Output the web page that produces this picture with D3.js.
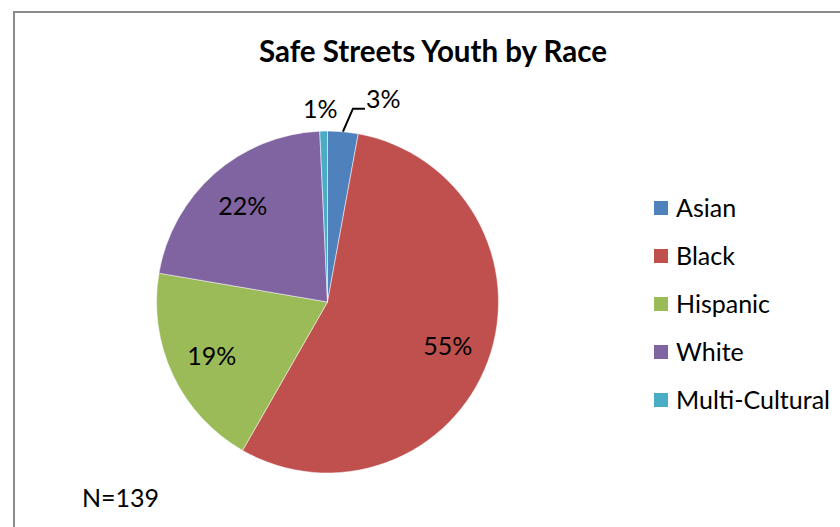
<!DOCTYPE html>
<html><head><meta charset="utf-8">
<script src="https://cdn.jsdelivr.net/npm/d3@7"></script>
<style>body{margin:0;background:#fff}svg{display:block;font-family:Lato,"Open Sans",sans-serif}</style>
</head><body><svg id="c" width="840" height="527"></svg>
<script>
const categories = ["Asian","Black","Hispanic","White","Multi-Cultural"];
const counts = [4,77,27,30,1];
const colors = ["#4F81BD","#C0504D","#9BBB59","#8064A2","#4BACC6"];
const title = "Safe Streets Youth by Race";
const note = "N=139";

const svg = d3.select("#c");
svg.append("rect").attr("x",14).attr("y",12).attr("width",900).attr("height",600)
  .attr("fill","#fff").attr("stroke","#8c8c8c").attr("stroke-width",2);

svg.append("text").attr("x",433).attr("y",52).attr("dy","0.35em").attr("text-anchor","middle")
  .attr("font-size",29.5).attr("font-weight","bold").attr("fill","#000").text(title);

const cx=327.5, cy=302, R=171;
const total=d3.sum(counts);
const pie=d3.pie().sort(null).value(d=>d)(counts);
const arc=d3.arc().innerRadius(0).outerRadius(R);
const g=svg.append("g").attr("transform",`translate(${cx},${cy})`);
g.selectAll("path").data(pie).join("path").attr("d",arc)
  .attr("fill",(d,i)=>colors[i]).attr("stroke","#fff").attr("stroke-width",0.5);

const pct=d=>Math.round(d.value/total*100)+"%";
const labelArc=d3.arc().innerRadius(128).outerRadius(128);
const fs=25;
pie.forEach((d,i)=>{
  const mid=(d.startAngle+d.endAngle)/2;
  if(d.value/total>0.05){
    const [x,y]=labelArc.centroid(d);
    g.append("text").attr("x",x).attr("y",y).attr("dy","0.35em").attr("text-anchor","middle")
      .attr("font-size",fs).attr("fill","#000").text(pct(d));
  } else if(i===0){
    const p0=[R*Math.sin(mid), -R*Math.cos(mid)];
    const p1=[p0[0]+10, p0[1]-23];
    const p2=[p1[0]+12, p1[1]];
    g.append("path").attr("d",d3.line()([p0,p1,p2])).attr("fill","none").attr("stroke","#000").attr("stroke-width",2);
    g.append("text").attr("x",p2[0]+1).attr("y",p2[1]-9).attr("dy","0.35em").attr("font-size",fs).text(pct(d));
  } else {
    const r=R+22;
    g.append("text").attr("x",r*Math.sin(mid)-3).attr("y",-r*Math.cos(mid)).attr("dy","0.35em")
      .attr("text-anchor","middle").attr("font-size",fs).text(pct(d));
  }
});

const leg=svg.append("g");
const ly=d3.scaleBand().domain(categories).range([184,424]);
categories.forEach((c,i)=>{
  const y=ly(c)+ly.bandwidth()/2;
  leg.append("rect").attr("x",654).attr("y",y-7).attr("width",14).attr("height",14).attr("fill",colors[i]);
  leg.append("text").attr("x",676).attr("y",y).attr("dy","0.35em").attr("font-size",fs).attr("fill","#000").text(c);
});

svg.append("text").attr("x",82).attr("y",498).attr("dy","0.35em").attr("font-size",fs).attr("fill","#000").text(note);
</script></body></html>
